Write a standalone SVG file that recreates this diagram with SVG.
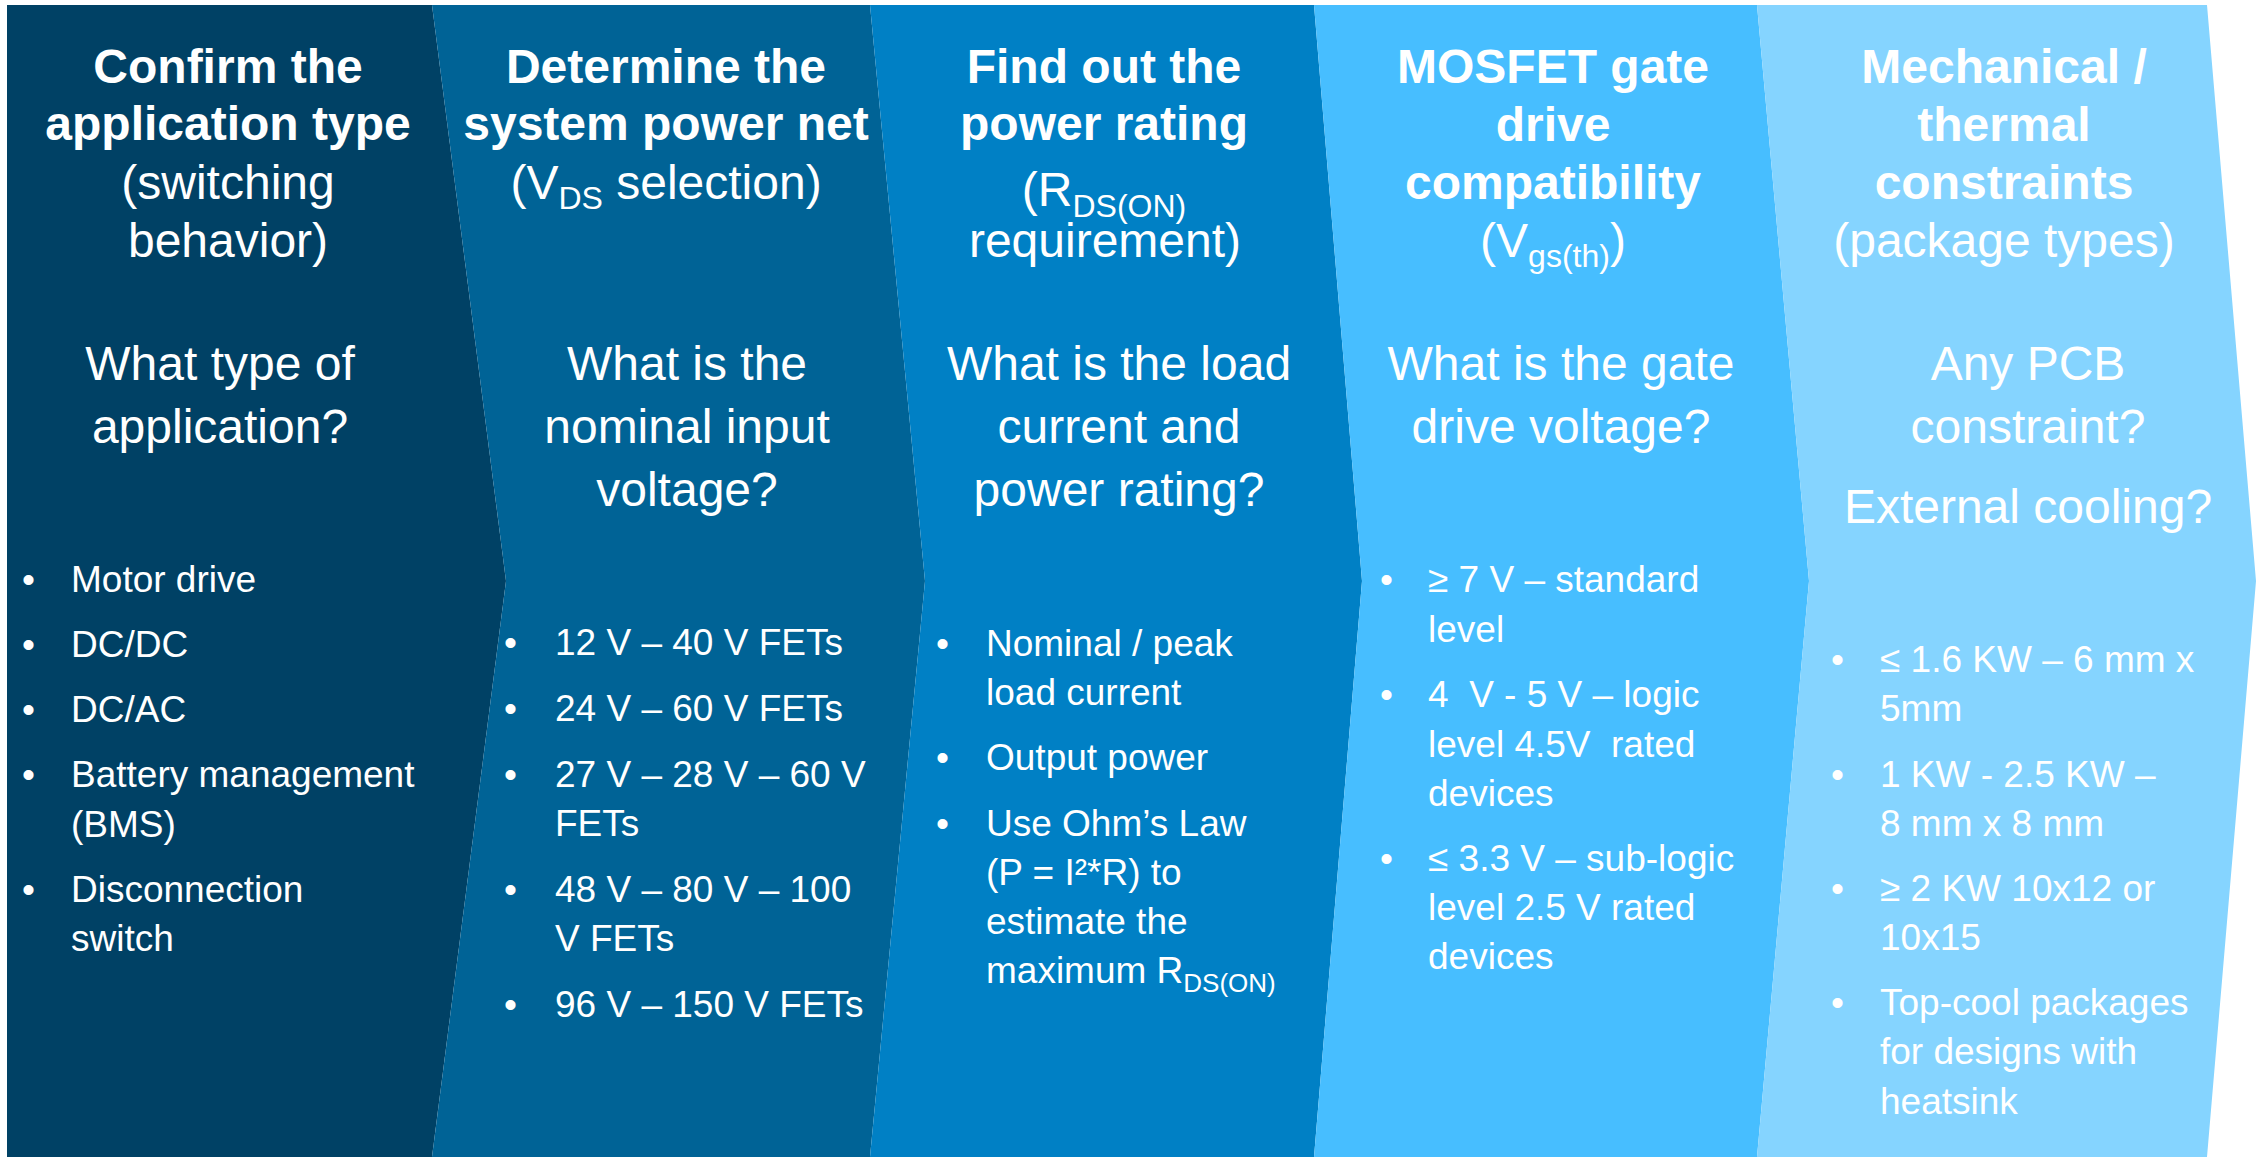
<svg xmlns="http://www.w3.org/2000/svg" width="2256" height="1157" viewBox="0 0 2256 1157">
<style>
text{font-family:"Liberation Sans",Arial,sans-serif;fill:#ffffff}
.t{font-size:48px;font-weight:bold;text-anchor:middle}
.s{font-size:48px;text-anchor:middle}
.b{font-size:37px}
.sub{font-size:32px}
.bsub{font-size:26px}
</style>
<rect x="0" y="0" width="2256" height="1157" fill="#ffffff"/>
<g id="step1">
<polygon points="7,5 432,5 506,581 432,1157 7,1157" fill="#004165"/>
<text class="t" x="228" y="83">Confirm the</text>
<text class="t" x="228" y="140">application type</text>
<text class="s" x="228" y="199">(switching</text>
<text class="s" x="228" y="257">behavior)</text>
<text class="s" x="220" y="380">What type of</text>
<text class="s" x="220" y="443">application?</text>
<g class="b">
<text x="22" y="592">•</text><text x="71" y="592">Motor drive</text>
<text x="22" y="657">•</text><text x="71" y="657">DC/DC</text>
<text x="22" y="722">•</text><text x="71" y="722">DC/AC</text>
<text x="22" y="787">•</text><text x="71" y="787">Battery management</text>
<text x="71" y="837">(BMS)</text>
<text x="22" y="902">•</text><text x="71" y="902">Disconnection</text>
<text x="71" y="951">switch</text>
</g>
</g>
<g id="step2">
<polygon points="432,5 870,5 925,581 870,1157 432,1157 506,581" fill="#006396"/>
<text class="t" x="666" y="83">Determine the</text>
<text class="t" x="666" y="140">system power net</text>
<text class="s" x="666" y="199">(V<tspan class="sub" dy="10">DS</tspan><tspan dy="-10"> selection)</tspan></text>
<text class="s" x="687" y="380">What is the</text>
<text class="s" x="687" y="443">nominal input</text>
<text class="s" x="687" y="506">voltage?</text>
<g class="b">
<text x="504" y="655">•</text><text x="555" y="655">12 V – 40 V FETs</text>
<text x="504" y="721">•</text><text x="555" y="721">24 V – 60 V FETs</text>
<text x="504" y="787">•</text><text x="555" y="787">27 V – 28 V – 60 V</text>
<text x="555" y="836">FETs</text>
<text x="504" y="902">•</text><text x="555" y="902">48 V – 80 V – 100</text>
<text x="555" y="951">V FETs</text>
<text x="504" y="1017">•</text><text x="555" y="1017">96 V – 150 V FETs</text>
</g>
</g>
<g id="step3">
<polygon points="870,5 1314,5 1362,581 1314,1157 870,1157 925,581" fill="#0080C5"/>
<text class="t" x="1104" y="83">Find out the</text>
<text class="t" x="1104" y="140">power rating</text>
<text class="s" x="1104" y="206">(R<tspan class="sub" dy="11">DS(ON)</tspan></text>
<text class="s" x="1105" y="257">requirement)</text>
<text class="s" x="1119" y="380">What is the load</text>
<text class="s" x="1119" y="443">current and</text>
<text class="s" x="1119" y="506">power rating?</text>
<g class="b">
<text x="936" y="656">•</text><text x="986" y="656">Nominal / peak</text>
<text x="986" y="705">load current</text>
<text x="936" y="770">•</text><text x="986" y="770">Output power</text>
<text x="936" y="836">•</text><text x="986" y="836">Use Ohm’s Law</text>
<text x="986" y="885">(P = I²*R) to</text>
<text x="986" y="934">estimate the</text>
<text x="986" y="983">maximum R<tspan class="bsub" dy="9">DS(ON)</tspan></text>
</g>
</g>
<g id="step4">
<polygon points="1314,5 1757,5 1809,581 1757,1157 1314,1157 1362,581" fill="#47BEFF"/>
<text class="t" x="1553" y="83">MOSFET gate</text>
<text class="t" x="1553" y="141">drive</text>
<text class="t" x="1553" y="199">compatibility</text>
<text class="s" x="1553" y="257">(V<tspan class="sub" dy="10">gs(th)</tspan><tspan dy="-10">)</tspan></text>
<text class="s" x="1561" y="380">What is the gate</text>
<text class="s" x="1561" y="443">drive voltage?</text>
<g class="b">
<text x="1380" y="592">•</text><text x="1428" y="592">≥ 7 V – standard</text>
<text x="1428" y="642">level</text>
<text x="1380" y="707">•</text><text x="1428" y="707">4&#160; V - 5 V – logic</text>
<text x="1428" y="757">level 4.5V&#160; rated</text>
<text x="1428" y="806">devices</text>
<text x="1380" y="871">•</text><text x="1428" y="871">≤ 3.3 V – sub-logic</text>
<text x="1428" y="920">level 2.5 V rated</text>
<text x="1428" y="969">devices</text>
</g>
</g>
<g id="step5">
<polygon points="1757,5 2207,5 2256,581 2207,1157 1757,1157 1809,581" fill="#85D4FF"/>
<text class="t" x="2004" y="83">Mechanical /</text>
<text class="t" x="2004" y="141">thermal</text>
<text class="t" x="2004" y="199">constraints</text>
<text class="s" x="2004" y="257">(package types)</text>
<text class="s" x="2028" y="380">Any PCB</text>
<text class="s" x="2028" y="443">constraint?</text>
<text class="s" x="2028" y="523">External cooling?</text>
<g class="b">
<text x="1831" y="672">•</text><text x="1880" y="672">≤ 1.6 KW – 6 mm x</text>
<text x="1880" y="721">5mm</text>
<text x="1831" y="787">•</text><text x="1880" y="787">1 KW - 2.5 KW –</text>
<text x="1880" y="836">8 mm x 8 mm</text>
<text x="1831" y="901">•</text><text x="1880" y="901">≥ 2 KW 10x12 or</text>
<text x="1880" y="950">10x15</text>
<text x="1831" y="1015">•</text><text x="1880" y="1015">Top-cool packages</text>
<text x="1880" y="1064">for designs with</text>
<text x="1880" y="1114">heatsink</text>
</g>
</g>
<g id="connectors"/>
</svg>
